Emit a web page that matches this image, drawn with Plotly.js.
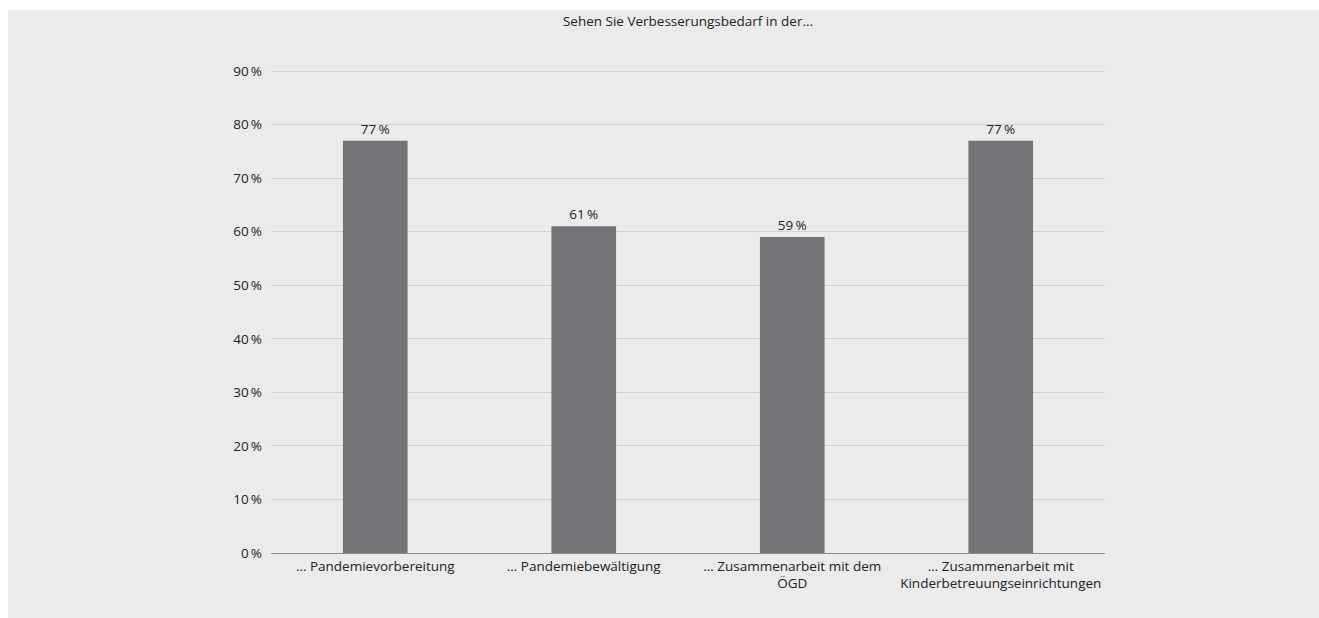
<!DOCTYPE html>
<html><head><meta charset="utf-8">
<script src="https://cdn.plot.ly/plotly-3.0.1.min.js"></script>
<style>
html,body{margin:0;padding:0;background:#ffffff;}
#chart{position:absolute;left:8px;top:10px;width:1311px;height:608px;}
</style></head>
<body><div id="chart"></div>
<script>
const categories = ["… Pandemievorbereitung","… Pandemiebewältigung","… Zusammenarbeit mit dem<br>ÖGD","… Zusammenarbeit mit<br>Kinderbetreuungseinrichtungen"];
const values = [77, 61, 59, 77];
const tickVals = [0,10,20,30,40,50,60,70,80,90];
const tickLabels = tickVals.map(v => v + "\u2009%");
const barLabels = values.map(v => v + "\u2009%");
const titleText = "Sehen Sie Verbesserungsbedarf in der...";

const font = {family: "Open Sans, Liberation Sans, sans-serif", size: 13.5, color: "#222222"};
Plotly.newPlot("chart", [{
  type: "bar", x: categories, y: values,
  marker: {color: "#727377"},
  width: 0.31,
  text: barLabels, textposition: "outside", cliponaxis: false,
  textfont: font, hoverinfo: "none"
}], {
  width: 1311, height: 608,
  paper_bgcolor: "#ebebeb", plot_bgcolor: "#ebebeb",
  margin: {l: 263, r: 214, t: 60, b: 65},
  font: font,
  showlegend: false,
  title: {text: titleText, font: font, x: 0.5, xref: "paper", y: 0.99, yref: "container", yanchor: "top"},
  xaxis: {showgrid: false, showline: false, zeroline: false, ticks: "", tickfont: font, automargin: false, ticklabelstandoff: 3},
  yaxis: {range: [0, 90.2], tickvals: tickVals, ticktext: tickLabels, showgrid: true, gridcolor: "#d2d2d2", gridwidth: 1,
          zeroline: true, zerolinecolor: "#8c8c8c", zerolinewidth: 1, showline: false, ticks: "", ticklabelstandoff: 8, tickfont: font, automargin: false}
}, {displayModeBar: false, staticPlot: true});
</script></body></html>
